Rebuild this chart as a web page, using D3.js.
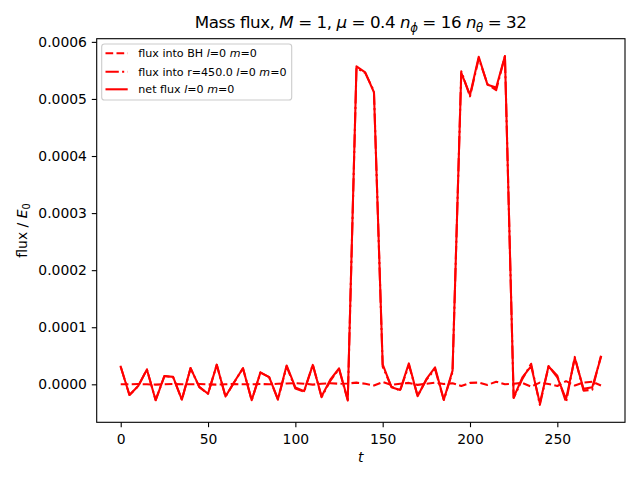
<!DOCTYPE html>
<html>
<head>
<meta charset="utf-8">
<script src="https://cdn.jsdelivr.net/npm/d3@7"></script>
<style>
  html, body { margin: 0; padding: 0; background: #fff; }
  svg { display: block; font-family: "DejaVu Sans", sans-serif; }
</style>
</head>
<body>
<svg id="chart" width="640" height="480"></svg>
<script>
// ---- data ----
const tValues = [0,5,10,15,20,25,30,35,40,45,50,55,60,65,70,75,80,85,90,95,100,105,110,115,120,125,130,135,140,145,150,155,160,165,170,175,180,185,190,195,200,205,210,215,220,225,230,235,240,245,250,255,260,265,270,275];

const fluxBH = [0,0,0.5e-6,0,-0.5e-6,0,0.5e-6,0,0,0.5e-6,0,-0.5e-6,0,0.5e-6,0,0,0.5e-6,0,1e-6,1.5e-6,2e-6,1e-6,-0.5e-6,1e-6,2e-6,1e-6,1.5e-6,3e-6,1e-6,-2e-6,4e-6,-1e-6,1e-6,2.5e-6,-1e-6,1e-6,3e-6,0.5e-6,2e-6,-3e-6,2.5e-6,3e-6,-1e-6,4.5e-6,0,1e-6,2.5e-6,-4e-6,3e-6,0.5e-6,-3e-6,5.5e-6,-2e-6,3e-6,4.5e-6,-2e-6];

const fluxR450 = [30.7e-6,-18.7e-6,-3.5e-6,26e-6,-27.5e-6,14.5e-6,12.5e-6,-27e-6,28.4e-6,-5e-6,-16.5e-6,34.5e-6,-21.5e-6,3.5e-6,28.2e-6,-28e-6,20.5e-6,12.5e-6,-27e-6,31.5e-6,-7.5e-6,-13e-6,34.5e-6,-22.5e-6,6e-6,27e-6,-28.5e-6,554e-6,545.6e-6,513.7e-6,31e-6,-4e-6,-11e-6,34.1e-6,-20e-6,8e-6,26.6e-6,-27.5e-6,22e-6,548.5e-6,504.5e-6,571e-6,526e-6,515.5e-6,575e-6,-24e-6,9.5e-6,36e-6,-36e-6,31.5e-6,15e-6,-31.5e-6,48e-6,-11e-6,-9.5e-6,50e-6];

const fluxNet = [30.7e-6,-18.7e-6,-3e-6,26e-6,-28e-6,14.5e-6,13e-6,-27e-6,28.4e-6,-4.5e-6,-16.5e-6,34e-6,-21.5e-6,4e-6,28.2e-6,-28e-6,21e-6,12.5e-6,-26e-6,33e-6,-5.5e-6,-12e-6,34e-6,-21.5e-6,8e-6,28e-6,-27e-6,557e-6,546.6e-6,511.7e-6,35e-6,-5e-6,-10e-6,36.6e-6,-21e-6,9e-6,29.6e-6,-27e-6,24e-6,545.5e-6,507e-6,574e-6,525e-6,520e-6,575e-6,-23e-6,12e-6,32e-6,-33e-6,32e-6,12e-6,-26e-6,46e-6,-8e-6,-5e-6,48e-6];

const xTicks = [0,50,100,150,200,250];
const yTicks = [0,0.0001,0.0002,0.0003,0.0004,0.0005,0.0006];

const legendLabels = [
  ["flux into BH ", "l", "=0 ", "m", "=0"],
  ["flux into r=450.0 ", "l", "=0 ", "m", "=0"],
  ["net flux ", "l", "=0 ", "m", "=0"]
];

// ---- layout ----
const W = 640, H = 480;
const plot = { left: 96.7, right: 625, top: 38.7, bottom: 422.3 };
const lw = 2.08;
const red = "#ff0000";

const svg = d3.select("#chart");

const tExt = d3.extent(tValues);
const tPad = (tExt[1] - tExt[0]) * 0.05;
const allY = fluxBH.concat(fluxR450, fluxNet);
const yExt = d3.extent(allY);
const yPad = (yExt[1] - yExt[0]) * 0.05;

const x = d3.scaleLinear().domain([tExt[0] - tPad, tExt[1] + tPad]).range([plot.left, plot.right]);
const y = d3.scaleLinear().domain([yExt[0] - yPad, yExt[1] + yPad]).range([plot.bottom, plot.top]);

// clip
svg.append("defs").append("clipPath").attr("id", "clip")
  .append("rect").attr("x", plot.left).attr("y", plot.top)
  .attr("width", plot.right - plot.left).attr("height", plot.bottom - plot.top);

const series = [
  { vals: fluxBH, dash: "7.7,3.3" },
  { vals: fluxR450, dash: "13.3,3.3,2.1,3.3" },
  { vals: fluxNet, dash: null }
];

const line = d3.line().x((d, i) => x(tValues[i])).y(d => y(d));

const g = svg.append("g").attr("clip-path", "url(#clip)");
series.forEach(s => {
  g.append("path")
    .attr("d", line(s.vals))
    .attr("fill", "none")
    .attr("stroke", red)
    .attr("stroke-width", lw)
    .attr("stroke-linejoin", "round")
    .attr("stroke-linecap", s.dash ? "butt" : "square")
    .attr("stroke-dasharray", s.dash);
});

// axes
const tickFont = 13.9;
const xAxis = d3.axisBottom(x).tickValues(xTicks).tickSize(4.9).tickPadding(3.5).tickFormat(d3.format("d"));
const yAxis = d3.axisLeft(y).tickValues(yTicks).tickSize(4.9).tickPadding(4.9).tickFormat(d3.format(".4f"));

const gx = svg.append("g").attr("transform", `translate(0,${plot.bottom})`).call(xAxis);
const gy = svg.append("g").attr("transform", `translate(${plot.left},0)`).call(yAxis);
[gx, gy].forEach(a => {
  a.select(".domain").remove();
  a.selectAll(".tick line").attr("stroke", "#000").attr("stroke-width", 1.1);
  a.selectAll(".tick text").attr("fill", "#000").attr("font-size", tickFont)
    .attr("font-family", "DejaVu Sans");
});
gx.selectAll(".tick text").attr("dy", "0.95em");

// frame
svg.append("rect").attr("x", plot.left).attr("y", plot.top)
  .attr("width", plot.right - plot.left).attr("height", plot.bottom - plot.top)
  .attr("fill", "none").attr("stroke", "#000").attr("stroke-width", 1.1);

// title
const cx = (plot.left + plot.right) / 2;
const title = svg.append("text").attr("x", cx).attr("y", 28).attr("text-anchor", "middle")
  .attr("font-size", 16.7).attr("fill", "#000")
  .attr("textLength", 332).attr("lengthAdjust", "spacing");
title.append("tspan").text("Mass flux, ");
title.append("tspan").attr("font-style", "italic").text("M");
title.append("tspan").text(" = 1, ");
title.append("tspan").attr("font-style", "italic").text("μ");
title.append("tspan").text(" = 0.4 ");
title.append("tspan").attr("font-style", "italic").text("n");
title.append("tspan").attr("font-style", "italic").attr("font-size", 11.7).attr("dy", 4).text("ϕ");
title.append("tspan").attr("dy", -4).text(" = 16 ");
title.append("tspan").attr("font-style", "italic").text("n");
title.append("tspan").attr("font-style", "italic").attr("font-size", 11.7).attr("dy", 4).text("θ");
title.append("tspan").attr("dy", -4).text(" = 32");

// axis labels
svg.append("text").attr("x", cx).attr("y", 462).attr("text-anchor", "middle")
  .attr("font-size", tickFont).attr("font-style", "italic").attr("fill", "#000").text("t");

const yl = svg.append("text").attr("transform", `translate(27,${(plot.top + plot.bottom) / 2}) rotate(-90)`)
  .attr("text-anchor", "middle").attr("font-size", tickFont).attr("fill", "#000");
yl.append("tspan").text("flux / ");
yl.append("tspan").attr("font-style", "italic").text("E");
yl.append("tspan").attr("font-size", 9.7).attr("dy", 3).text("0");

// legend
const lg = svg.append("g");
lg.append("rect").attr("x", 101.7).attr("y", 44).attr("width", 190).attr("height", 56)
  .attr("rx", 2.8).attr("fill", "#fff").attr("fill-opacity", 0.8)
  .attr("stroke", "#cccccc").attr("stroke-width", 1.1);
const rowY = [53.3, 71.7, 89.3];
series.forEach((s, i) => {
  lg.append("line").attr("x1", 105.5).attr("x2", 127.7).attr("y1", rowY[i]).attr("y2", rowY[i])
    .attr("stroke", red).attr("stroke-width", lw).attr("stroke-dasharray", s.dash)
    .attr("stroke-linecap", "butt");
  const t = lg.append("text").attr("x", 138.3).attr("y", rowY[i] + 4).attr("font-size", 11.1).attr("fill", "#000");
  legendLabels[i].forEach((part, k) => {
    t.append("tspan").attr("font-style", (k === 1 || k === 3) ? "italic" : null).text(part);
  });
});
</script>
</body>
</html>
